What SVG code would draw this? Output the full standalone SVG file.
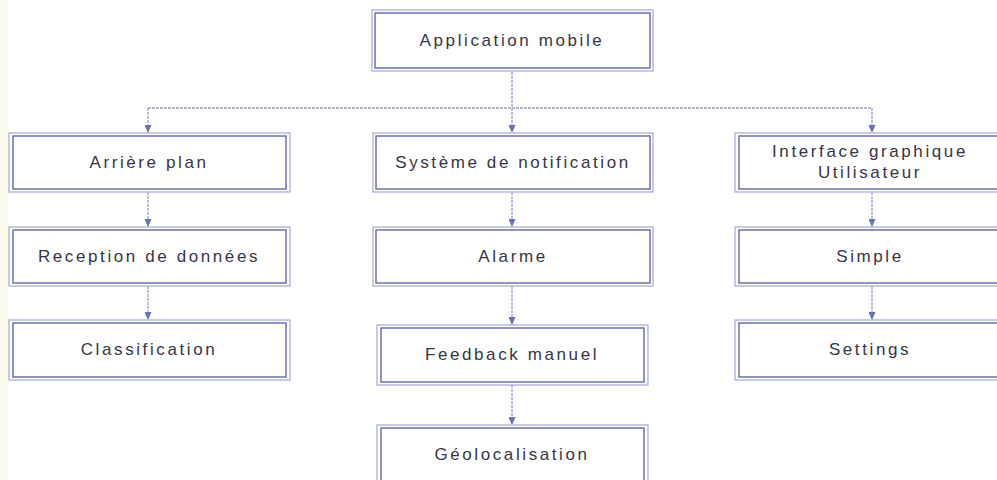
<svg xmlns="http://www.w3.org/2000/svg" width="997" height="480" viewBox="0 0 997 480">
<style>
.o{fill:#ffffff;stroke:#a4a7d8;stroke-width:1.2}
.i{fill:none;stroke:#6c70b4;stroke-width:1.5}
.t{font-family:"Liberation Sans",Arial,sans-serif;font-size:17px;letter-spacing:2.6px;fill:#363646;text-anchor:middle}
.c{fill:none;stroke:#9a9dcc;stroke-width:1.3;stroke-dasharray:3 1}
</style>
<defs>
<marker id="ar" markerWidth="8" markerHeight="7" refX="7" refY="3.5" orient="auto" markerUnits="userSpaceOnUse">
<path d="M0,0 L8,3.5 L0,7 Z" fill="#6c70b4"/>
</marker>
</defs>
<rect x="0" y="0" width="997" height="480" fill="#ffffff"/>
<rect x="0" y="0" width="8" height="480" fill="#fbfbee"/>
<g id="connectors">
<line class="c" x1="512" y1="72" x2="512" y2="108"/>
<line class="c" x1="148" y1="108" x2="872" y2="108"/>
<line class="c" x1="148" y1="108" x2="148" y2="132" marker-end="url(#ar)"/>
<line class="c" x1="512" y1="108" x2="512" y2="132" marker-end="url(#ar)"/>
<line class="c" x1="872" y1="108" x2="872" y2="132" marker-end="url(#ar)"/>
<line class="c" x1="148" y1="192" x2="148" y2="226" marker-end="url(#ar)"/>
<line class="c" x1="148" y1="286" x2="148" y2="319" marker-end="url(#ar)"/>
<line class="c" x1="512" y1="192" x2="512" y2="226" marker-end="url(#ar)"/>
<line class="c" x1="512" y1="286" x2="512" y2="324" marker-end="url(#ar)"/>
<line class="c" x1="512" y1="385" x2="512" y2="424" marker-end="url(#ar)"/>
<line class="c" x1="872" y1="192" x2="872" y2="226" marker-end="url(#ar)"/>
<line class="c" x1="872" y1="286" x2="872" y2="319" marker-end="url(#ar)"/>
</g>
<g id="app">
<rect class="o" x="372" y="10" width="281" height="61"/>
<rect class="i" x="375" y="13" width="275" height="55"/>
<text class="t" x="512" y="46">Application mobile</text>
</g>
<g id="arriere">
<rect class="o" x="9" y="133" width="281" height="59"/>
<rect class="i" x="13" y="136" width="273" height="53"/>
<text class="t" x="149" y="168">Arrière plan</text>
</g>
<g id="reception">
<rect class="o" x="9" y="227" width="281" height="59"/>
<rect class="i" x="13" y="230" width="273" height="53"/>
<text class="t" x="149" y="262">Reception de données</text>
</g>
<g id="classification">
<rect class="o" x="9" y="320" width="281" height="60"/>
<rect class="i" x="13" y="323" width="273" height="54"/>
<text class="t" x="149" y="355">Classification</text>
</g>
<g id="notification">
<rect class="o" x="373" y="133" width="280" height="59"/>
<rect class="i" x="376" y="136" width="274" height="53"/>
<text class="t" x="513" y="168">Système de notification</text>
</g>
<g id="alarme">
<rect class="o" x="373" y="227" width="280" height="59"/>
<rect class="i" x="376" y="230" width="274" height="53"/>
<text class="t" x="513" y="262">Alarme</text>
</g>
<g id="feedback">
<rect class="o" x="377" y="325" width="271" height="60"/>
<rect class="i" x="381" y="328" width="263" height="54"/>
<text class="t" x="512" y="360">Feedback manuel</text>
</g>
<g id="geolocalisation">
<rect class="o" x="377" y="425" width="271" height="60"/>
<rect class="i" x="381" y="428" width="263" height="54"/>
<text class="t" x="512" y="460">Géolocalisation</text>
</g>
<g id="interface">
<rect class="o" x="735" y="133" width="280" height="59"/>
<rect class="i" x="739" y="136" width="273" height="53"/>
<text class="t" x="870" y="157">Interface graphique</text>
<text class="t" x="870" y="178">Utilisateur</text>
</g>
<g id="simple">
<rect class="o" x="735" y="227" width="280" height="59"/>
<rect class="i" x="739" y="230" width="273" height="53"/>
<text class="t" x="870" y="262">Simple</text>
</g>
<g id="settings">
<rect class="o" x="735" y="320" width="280" height="60"/>
<rect class="i" x="739" y="323" width="273" height="54"/>
<text class="t" x="870" y="355">Settings</text>
</g>
</svg>
